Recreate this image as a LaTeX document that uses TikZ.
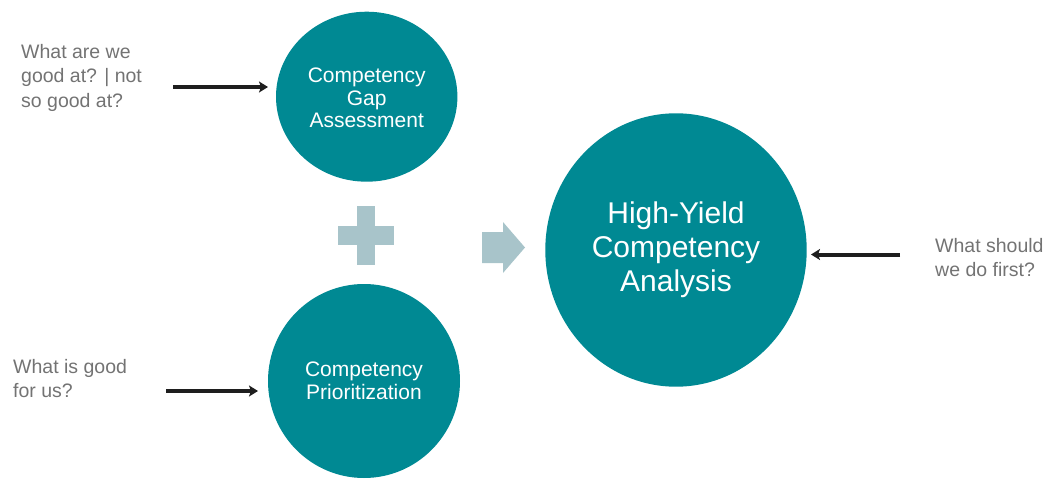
\documentclass[tikz,border=0pt]{standalone}
\usepackage{fontspec}
\setmainfont{Liberation Sans}
\usetikzlibrary{arrows.meta}
\definecolor{teal1}{RGB}{0,137,147}
\definecolor{pale}{RGB}{168,196,202}
\definecolor{gtxt}{RGB}{115,115,115}
\definecolor{arr}{RGB}{30,30,30}
\tikzset{
  gtext/.style={text=gtxt, align=left, inner sep=0pt, anchor=north west,
    font=\fontsize{19.5}{24.5}\selectfont},
  ctext/.style={text=white, align=center, inner sep=0pt,
    font=\fontsize{21}{22.5}\selectfont},
  btext/.style={text=white, align=center, inner sep=0pt,
    font=\fontsize{30}{34}\selectfont},
  pointer/.style={draw=arr, line width=4pt, -{Stealth[length=9pt,width=11pt,inset=2pt]}},
}
\begin{document}
\begin{tikzpicture}[x=1pt,y=-1pt]
\useasboundingbox (0,0) rectangle (1045,479);
% bubbles
\fill[teal1] (366.7,96.7) ellipse [x radius=90.7, y radius=85];
\fill[teal1] (364,381) ellipse [x radius=96, y radius=97];
\fill[teal1] (676,250) ellipse [x radius=130.7, y radius=136.7];
\node[ctext] (gap) at (366.7,98) {Competency\\Gap\\Assessment};
\node[ctext] (prio) at (364,381) {Competency\\Prioritization};
\node[btext] (hyca) at (676,250) {High-Yield\\Competency\\Analysis};
% questions
\node[gtext] (q1) at (21,44) {What are we\\good at? | not\\so good at?};
\node[gtext] (q2) at (13,359) {What is good\\for us?};
\node[gtext] (q3) at (935,238) {What should\\we do first?};
% plus sign
\fill[pale] (357,206) rectangle (375,265);
\fill[pale] (338,226) rectangle (394,245);
% block arrow
\fill[pale] (482,232) -- (503,232) -- (503,222) -- (525,247.5) -- (503,273) -- (503,263) -- (482,263) -- cycle;
% pointers
\coordinate (a1s) at (173,87); \coordinate (a1e) at (268,87);
\coordinate (a2s) at (166,391); \coordinate (a2e) at (258,391);
\coordinate (a3s) at (900,254.5); \coordinate (a3e) at (811,254.5);
\draw[pointer] (a1s) -- (a1e);
\draw[pointer] (a2s) -- (a2e);
\draw[pointer] (a3s) -- (a3e);
\end{tikzpicture}
\end{document}
